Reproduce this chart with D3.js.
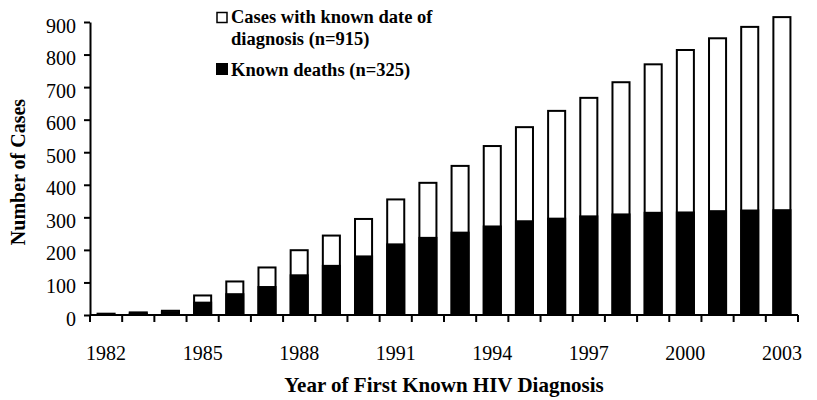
<!DOCTYPE html>
<meta charset="utf-8">
<style>
  body { margin: 0; background: #fff; }
  .axis path, .axis line { stroke: #000; stroke-width: 2px; }
</style>
<body>
<svg width="817" height="400"></svg>
<script src="https://d3js.org/d3.v7.min.js"></script>
<script>
// Dane
const years = d3.range(1982, 2004);
const cases = [4, 8, 13, 60, 103, 146, 199, 244, 295, 355, 406, 458, 519, 577, 627, 667, 715, 770, 814, 850, 885, 915];
const deaths = [3, 7, 12, 41, 67, 89, 125, 154, 183, 220, 240, 256, 275, 291, 299, 306, 312, 317, 318, 322, 324, 325];
const yTicks = [0, 100, 200, 300, 400, 500, 600, 700, 800, 900];
const xLabels = [1982, 1985, 1988, 1991, 1994, 1997, 2000, 2003];

const FONT = '"Liberation Serif"';
const svg = d3.select('svg');
const margin = { left: 90, right: 19, top: 22, bottom: 85 };
const width = 817, height = 400;

const x = d3.scaleBand()
  .domain(years)
  .range([margin.left, width - margin.right])
  .paddingInner(0.47)
  .paddingOuter(0.235);

const y = d3.scaleLinear()
  .domain([0, 900])
  .range([height - margin.bottom, margin.top]);

// Słupki przypadków (białe)
svg.append('g')
  .selectAll('rect')
  .data(years)
  .enter().append('rect')
  .attr('x', d => x(d))
  .attr('width', x.bandwidth())
  .attr('y', (d, i) => y(cases[i]))
  .attr('height', (d, i) => y(0) - y(cases[i]))
  .attr('fill', '#fff')
  .attr('stroke', '#000')
  .attr('stroke-width', 2);

// Słupki zgonów (czarne)
svg.append('g')
  .selectAll('rect')
  .data(years)
  .enter().append('rect')
  .attr('x', d => x(d) - 1)
  .attr('width', x.bandwidth() + 2)
  .attr('y', (d, i) => y(deaths[i]))
  .attr('height', (d, i) => y(0) - y(deaths[i]))
  .attr('fill', '#000');

// Oś Y
const yAxis = svg.append('g')
  .attr('class', 'axis')
  .attr('transform', `translate(${margin.left},0)`)
  .call(d3.axisLeft(y).tickValues(yTicks).tickSize(6).tickPadding(8).tickSizeOuter(0));
yAxis.attr('font-family', null).attr('font-size', null);
yAxis.selectAll('text')
  .attr('dy', '0.5em')
  .style('font-family', FONT)
  .style('font-size', '20px')
  .attr('fill', '#000');

// Oś X - kreski na granicach kategorii
const step = x.step();
const x0 = margin.left;
const xAxis = svg.append('g')
  .attr('class', 'axis')
  .attr('transform', `translate(0,${y(0)})`);
xAxis.append('line')
  .attr('x1', x0).attr('x2', width - margin.right)
  .attr('y1', 0).attr('y2', 0);
xAxis.selectAll('line.tk')
  .data(d3.range(years.length + 1))
  .enter().append('line')
  .attr('class', 'tk')
  .attr('x1', i => x0 + i * step).attr('x2', i => x0 + i * step)
  .attr('y1', 0).attr('y2', 7);
xAxis.selectAll('text')
  .data(xLabels)
  .enter().append('text')
  .attr('x', d => x(d) + x.bandwidth() / 2)
  .attr('y', 45)
  .attr('text-anchor', 'middle')
  .style('font-family', FONT)
  .style('font-size', '20px')
  .text(d => d);

// Tytuły osi
svg.append('text')
  .attr('x', 444).attr('y', 392)
  .attr('text-anchor', 'middle')
  .style('font-family', FONT)
  .style('font-size', '21px')
  .style('font-weight', 'bold')
  .text('Year of First Known HIV Diagnosis');

svg.append('text')
  .attr('transform', 'translate(25,172) rotate(-90)')
  .attr('text-anchor', 'middle')
  .style('font-family', FONT)
  .style('font-size', '20px')
  .style('font-weight', 'bold')
  .text('Number of Cases');

// Legenda
const legend = svg.append('g');
legend.append('rect')
  .attr('x', 217).attr('y', 12.5).attr('width', 10).attr('height', 10)
  .attr('fill', '#fff').attr('stroke', '#000').attr('stroke-width', 1.5);
legend.append('rect')
  .attr('x', 216).attr('y', 63).attr('width', 12).attr('height', 12)
  .attr('fill', '#000');
legend.selectAll('text')
  .data([
    { t: 'Cases with known date of', y: 23 },
    { t: 'diagnosis (n=915)', y: 45 },
    { t: 'Known deaths (n=325)', y: 76 }
  ])
  .enter().append('text')
  .attr('x', 231).attr('y', d => d.y)
  .style('font-family', FONT)
  .style('font-size', '18.5px')
  .style('font-weight', 'bold')
  .text(d => d.t);
</script>
</body>
